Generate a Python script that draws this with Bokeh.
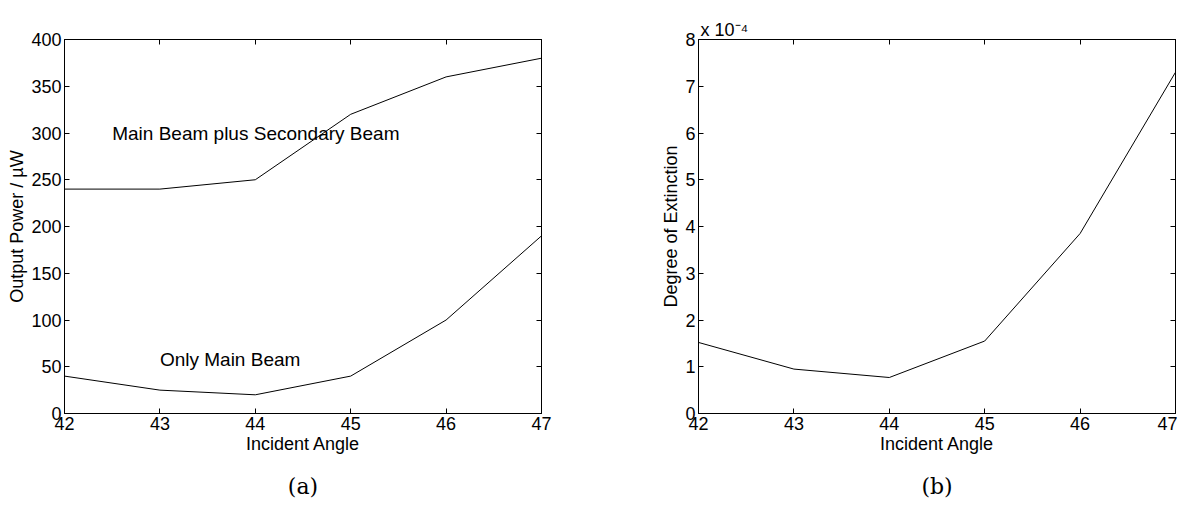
from bokeh.plotting import figure
from bokeh.layouts import row
from bokeh.models import LinearAxis, Range1d, Label, Title, FixedTicker
from bokeh.embed import file_html
from bokeh.resources import INLINE

# ---- data ----
angles = [42, 43, 44, 45, 46, 47]
power_main_plus_secondary = [240, 240, 250, 320, 360, 380]
power_main_only = [40, 25, 20, 40, 100, 190]
extinction_e4 = [1.52, 0.95, 0.77, 1.55, 3.85, 7.3]   # in units of 1e-4

x_ticks = [42, 43, 44, 45, 46, 47]
power_ticks = [0, 50, 100, 150, 200, 250, 300, 350, 400]
ext_ticks = [0, 1, 2, 3, 4, 5, 6, 7, 8]

FONT = "Liberation Sans"


def style_axis(ax, ticks, show_labels=True):
    ax.ticker = FixedTicker(ticks=ticks)
    ax.major_tick_in = 5
    ax.major_tick_out = 0
    ax.minor_tick_in = 0
    ax.minor_tick_out = 0
    ax.axis_line_color = "black"
    ax.major_tick_line_color = "black"
    ax.major_label_text_font = FONT
    ax.major_label_text_font_size = "18px"
    ax.major_label_text_color = "black"
    ax.major_label_standoff = 3
    ax.axis_label_text_font = FONT
    ax.axis_label_text_font_size = "18px"
    ax.axis_label_text_font_style = "normal"
    ax.axis_label_text_color = "black"
    ax.axis_label_standoff = 1
    if not show_labels:
        ax.major_label_text_font_size = "0px"
        ax.major_label_text_alpha = 0


def make_fig(yr, yticks, ylabel, border_left, border_right, caption):
    p = figure(frame_width=477, frame_height=374,
               min_border_left=border_left, min_border_right=border_right,
               min_border_top=39, min_border_bottom=20,
               x_range=Range1d(42, 47), y_range=Range1d(*yr),
               output_backend="svg", toolbar_location=None,
               background_fill_color="white", border_fill_color="white")
    p.xgrid.visible = False
    p.ygrid.visible = False
    p.outline_line_color = "black"
    p.outline_line_width = 1
    style_axis(p.xaxis[0], x_ticks)
    style_axis(p.yaxis[0], yticks)
    p.xaxis[0].axis_label = "Incident Angle"
    p.yaxis[0].axis_label = ylabel
    ra = LinearAxis()
    style_axis(ra, yticks, show_labels=False)
    p.add_layout(ra, "right")
    ta = LinearAxis()
    style_axis(ta, x_ticks, show_labels=False)
    p.add_layout(ta, "above")
    cap = Title(text=caption, align="center", text_font="DejaVu Serif",
                text_font_size="22px", text_font_style="normal",
                text_color="black", standoff=30)
    p.add_layout(cap, "below")
    return p


pa = make_fig((0, 400), power_ticks, "Output Power / \u00b5W", 64, 40, "(a)")
pa.line(angles, power_main_plus_secondary, line_color="black", line_width=1)
pa.line(angles, power_main_only, line_color="black", line_width=1)
pa.add_layout(Label(x=42.5, y=300, text="Main Beam plus Secondary Beam",
                    text_font=FONT, text_font_size="19px", text_color="black",
                    text_baseline="middle"))
pa.add_layout(Label(x=43.0, y=58, text="Only Main Beam",
                    text_font=FONT, text_font_size="19px", text_color="black",
                    text_baseline="middle"))

pb = make_fig((0, 8), ext_ticks, "Degree of Extinction", 117, 2, "(b)")
pb.line(angles, extinction_e4, line_color="black", line_width=1)
pb.add_layout(Title(text="x 10\u207b\u2074", align="left", offset=2,
                    text_font=FONT, text_font_size="18px",
                    text_font_style="normal", text_color="black",
                    standoff=0), "above")

layout = row(pa, pb)
open("out.html", "w").write(file_html(layout, INLINE))
